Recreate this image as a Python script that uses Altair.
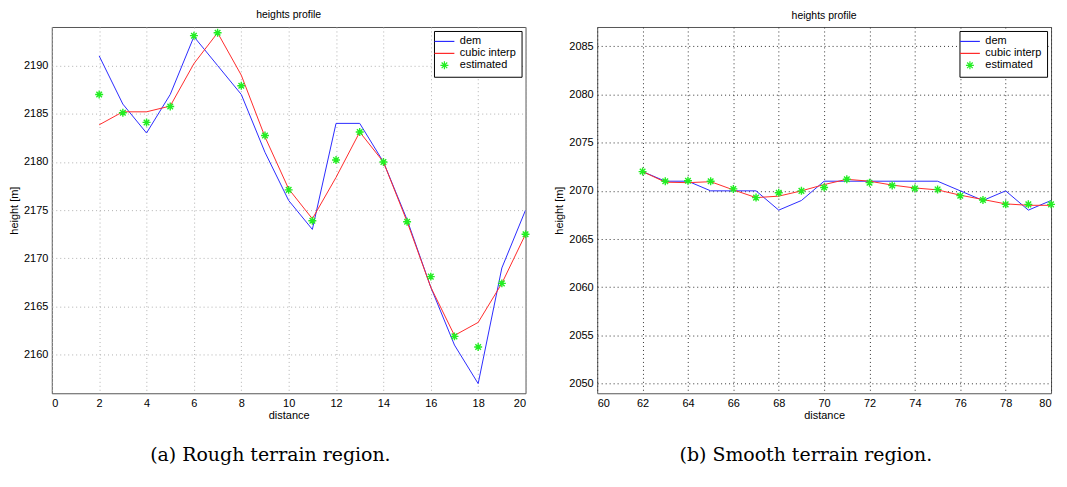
import altair as alt
import pandas as pd

# ---------------- data ----------------
SERIES = ["dem", "cubic interp", "estimated"]
COLORS = ["#2b2bff", "#ff2b2b", "#22ee22"]

dist_a = list(range(2, 21))
dem_a = [2191, 2186, 2183, 2187, 2193, 2190, 2187, 2181, 2176, 2173,
         2184, 2184, 2180, 2174, 2167, 2161, 2157, 2169, 2175]
cubic_a = [2183.85, 2185.2, 2185.2, 2185.8, 2190.2, 2193.4, 2189.0, 2182.6, 2177.2, 2174.1,
           2178.4, 2183.1, 2180.0, 2173.8, 2167.0, 2162.0, 2163.35, 2167.4, 2172.5]
est_a = [2187.0, 2185.1, 2184.1, 2185.75, 2193.1, 2193.4, 2187.9, 2182.75, 2177.1, 2173.9,
         2180.2, 2183.1, 2180.0, 2173.8, 2168.1, 2161.9, 2160.8, 2167.4, 2172.5]

dist_b = list(range(62, 81))
dem_b = [2072, 2071, 2071, 2070, 2070, 2070, 2068, 2069, 2071, 2071,
         2071, 2071, 2071, 2071, 2070, 2069, 2070, 2068, 2069]
cubic_b = [2072.0, 2070.9, 2070.85, 2070.95, 2070.1, 2069.3, 2069.45, 2070.0, 2070.65, 2071.2,
           2071.0, 2070.6, 2070.3, 2070.1, 2069.55, 2069.1, 2068.65, 2068.5, 2068.5]
est_b = [2072.0, 2071.0, 2071.05, 2071.0, 2070.2, 2069.3, 2069.8, 2070.0, 2070.35, 2071.2,
         2070.85, 2070.55, 2070.25, 2070.15, 2069.5, 2069.05, 2068.6, 2068.6, 2068.6]

xticks_a = list(range(0, 21, 2))
yticks_a = list(range(2160, 2191, 5))
xticks_b = list(range(60, 81, 2))
yticks_b = list(range(2050, 2086, 5))

caption_a = "(a) Rough terrain region."
caption_b = "(b) Smooth terrain region."

LINE_PATH = "M-2.5,0L2.5,0"
STAR_PATH = "M-1,0L1,0M0,-1L0,1M-0.7,-0.7L0.7,0.7M-0.7,0.7L0.7,-0.7"

SANS = "Liberation Sans"


def panel(dist, dem, cubic, est, xdom, ydom, xticks, yticks, grid_color, width, caption):
    lines_df = pd.concat([
        pd.DataFrame({"distance": dist, "height": dem, "series": "dem"}),
        pd.DataFrame({"distance": dist, "height": cubic, "series": "cubic interp"}),
    ])
    pts_df = pd.DataFrame({"distance": dist, "height": est, "series": "estimated"})

    color_scale = alt.Scale(domain=SERIES, range=COLORS)
    shape_scale = alt.Scale(domain=SERIES, range=[LINE_PATH, LINE_PATH, STAR_PATH])
    legend = alt.Legend(title=None, orient="top-right", offset=4,
                        fillColor="white", strokeColor="black", padding=5,
                        labelFont=SANS, labelFontSize=11, labelColor="black",
                        symbolSize=64, symbolStrokeWidth=1.2, rowPadding=0,
                        labelOffset=10)

    x = alt.X("distance:Q", scale=alt.Scale(domain=xdom, nice=False),
              axis=alt.Axis(values=xticks, title="distance", format="d",
                            gridColor=grid_color))
    y = alt.Y("height:Q", scale=alt.Scale(domain=ydom, nice=False, zero=False),
              axis=alt.Axis(values=yticks, title="height [m]", format="d",
                            gridColor=grid_color))

    lines = alt.Chart(lines_df).mark_line(strokeWidth=1, clip=True).encode(
        x=x, y=y,
        color=alt.Color("series:N", scale=color_scale, legend=legend),
        detail="series:N",
    )
    pts = alt.Chart(pts_df).mark_point(filled=False, size=64, strokeWidth=1.4, opacity=1).encode(
        x=x, y=y,
        color=alt.Color("series:N", scale=color_scale, legend=legend),
        shape=alt.Shape("series:N", scale=shape_scale, legend=legend),
    )
    layer = alt.layer(lines, pts).properties(
        width=width, height=368,
        title=alt.TitleParams("heights profile", font=SANS, fontSize=10.5,
                              fontWeight="normal", color="black", offset=6),
    )
    return alt.vconcat(layer).properties(
        title=alt.TitleParams(caption, orient="bottom", anchor="middle",
                              font="DejaVu Serif", fontSize=19, fontWeight="normal",
                              color="black", offset=26)
    ).resolve_scale(color="independent", shape="independent"
    ).resolve_legend(color="independent", shape="independent")


pa = panel(dist_a, dem_a, cubic_a, est_a, [0, 20], [2156, 2194],
           xticks_a, yticks_a, "#b0b0b0", 476, caption_a)
pb = panel(dist_b, dem_b, cubic_b, est_b, [60, 80], [2049, 2087],
           xticks_b, yticks_b, "#333333", 456, caption_b)

chart = alt.hconcat(pa, pb, spacing=20).resolve_scale(
    color="independent", shape="independent"
).resolve_legend(color="independent", shape="independent").properties(
    padding=0
).configure_view(
    stroke="#555555", strokeWidth=1
).configure_axis(
    labelFont=SANS, labelFontSize=11, labelColor="black",
    titleFont=SANS, titleFontSize=11, titleFontWeight="normal", titleColor="black",
    domain=False, ticks=False, labelPadding=4, titlePadding=4,
    grid=True, gridDash=[1, 3], gridWidth=1,
).configure_axisX(titlePadding=1)

chart.save("out.html", embed_options={"renderer": "svg", "actions": False})
